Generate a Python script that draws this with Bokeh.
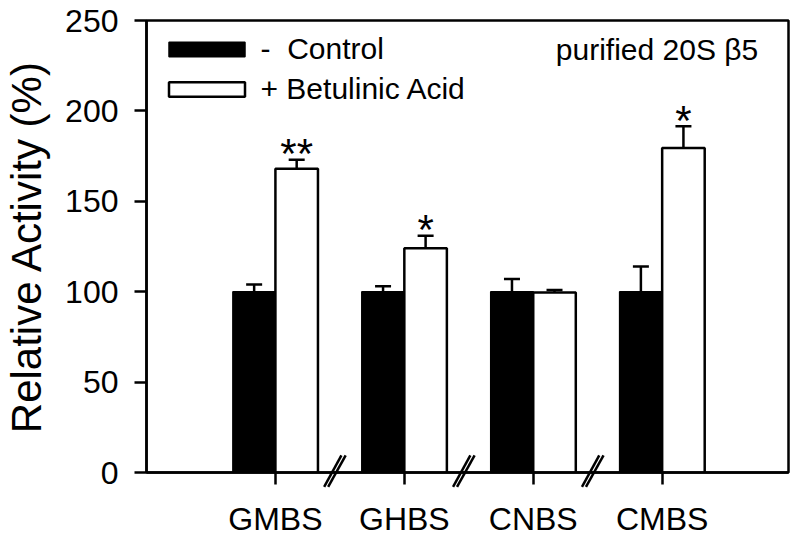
from bokeh.plotting import figure
from bokeh.models import (ColumnDataSource, FixedTicker, Legend, LegendItem, Label,
                          Whisker, TeeHead)
from bokeh.core.properties import value
from bokeh.embed import file_html
from bokeh.resources import INLINE

# ---- data ----
categories = ["GMBS", "GHBS", "CNBS", "CMBS"]
control = [100, 100, 100, 100]
control_err = [4, 3, 7, 14]
betulinic = [168, 124, 99.5, 179.5]
betulinic_err = [5, 7, 1.5, 12]
significance = ["**", "*", "", "*"]
y_ticks = [0, 50, 100, 150, 200, 250]

FONT = "Liberation Sans"
BAR_W = 0.33
LW = 2.5

pos = [i + 1 for i in range(len(categories))]

src_c = ColumnDataSource(dict(
    x=[p_ - BAR_W / 2 for p_ in pos], top=control, lower=control,
    upper=[v + e for v, e in zip(control, control_err)]))
src_b = ColumnDataSource(dict(
    x=[p_ + BAR_W / 2 for p_ in pos], top=betulinic, lower=betulinic,
    upper=[v + e for v, e in zip(betulinic, betulinic_err)],
    sig=significance))

p = figure(width=800, height=543, x_range=(0, 4.98), y_range=(0, 250),
           output_backend="svg", toolbar_location=None,
           min_border_left=145, min_border_right=12,
           min_border_top=20, min_border_bottom=71)
p.xgrid.visible = False
p.ygrid.visible = False
p.outline_line_color = "black"
p.outline_line_width = LW
p.outline_line_alpha = 1.0

r_c = p.vbar(x="x", top="top", width=BAR_W, source=src_c,
             fill_color="black", line_color="black", line_width=1.5)
r_b = p.vbar(x="x", top="top", width=BAR_W, source=src_b,
             fill_color="white", line_color="black", line_width=LW)

for src in (src_c, src_b):
    p.add_layout(Whisker(base="x", upper="upper", lower="lower", source=src,
                         dimension="height", line_width=LW, line_color="black",
                         upper_head=TeeHead(size=16, line_width=LW, line_color="black"),
                         lower_head=None))

p.text(x="x", y="upper", text="sig", source=src_b,
       text_align="center", text_baseline="alphabetic", y_offset=-6,
       text_font=value(FONT), text_font_size="42px", text_color="black")

# axis breaks "//" between groups
mids = [(a + b) / 2 for a, b in zip(pos[:-1], pos[1:])]
for dx0, dx1 in ((-0.122, 0.012), (-0.091, 0.045)):
    p.segment(x0=[m + dx0 for m in mids], x1=[m + dx1 for m in mids],
              y0=[-8] * len(mids), y1=[9.5] * len(mids),
              line_width=LW, line_color="black", level="overlay")

# axes
xa = p.xaxis[0]
xa.ticker = FixedTicker(ticks=pos)
xa.major_label_overrides = {p_: c for p_, c in zip(pos, categories)}
xa.minor_tick_line_color = None
xa.major_tick_in = 0
xa.major_tick_out = 12
xa.major_tick_line_width = LW
xa.axis_line_width = LW
xa.major_label_text_font = FONT
xa.major_label_text_font_size = "32px"
xa.major_label_standoff = 16
xa.major_label_text_color = "black"

ya = p.yaxis[0]
ya.ticker = FixedTicker(ticks=y_ticks)
ya.minor_tick_line_color = None
ya.major_tick_in = 0
ya.major_tick_out = 12
ya.major_tick_line_width = LW
ya.axis_line_width = LW
ya.major_label_text_font = FONT
ya.major_label_text_font_size = "32px"
ya.major_label_standoff = 16
ya.major_label_text_color = "black"
ya.axis_label = "Relative Activity (%)"
ya.axis_label_text_font = FONT
ya.axis_label_text_font_size = "42px"
ya.axis_label_text_font_style = "normal"
ya.axis_label_text_color = "black"
ya.axis_label_standoff = 12

legend = Legend(items=[LegendItem(label="-  Control", renderers=[r_c]),
                       LegendItem(label="+ Betulinic Acid", renderers=[r_b])],
                location=(12.5, 366), margin=0, padding=0,
                glyph_width=95, glyph_height=18, label_standoff=7, spacing=6,
                label_text_font=FONT, label_text_font_size="30px",
                label_text_color="black",
                border_line_alpha=0, background_fill_alpha=0)
p.add_layout(legend)

p.add_layout(Label(x=4.745, y=234, text="purified 20S \u03b25", text_align="right",
                   text_baseline="middle", text_font=FONT,
                   text_font_size="30px", text_color="black"))

open("out.html", "w").write(file_html(p, INLINE))
